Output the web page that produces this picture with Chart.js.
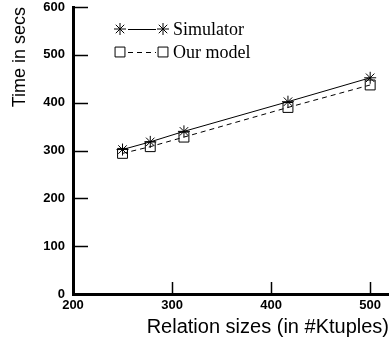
<!DOCTYPE html>
<html>
<head>
<meta charset="utf-8">
<script src="https://cdn.jsdelivr.net/npm/chart.js@4.4.1/dist/chart.umd.min.js"></script>
<style>
  html, body { margin: 0; padding: 0; background: #fff; overflow: hidden; }
  canvas { display: block; }
</style>
</head>
<body>
<canvas id="chart" width="389" height="343"></canvas>
<script>
// --- data ---
const relationSizes = [250, 278, 312, 417, 500];      // #Ktuples
const simulatorTimes = [302, 318, 340, 402, 452];     // secs
const modelTimes = [294, 308, 328, 390, 437];         // secs
const xTicks = [200, 300, 400, 500];
const yTicks = [0, 100, 200, 300, 400, 500, 600];

const sans = "'Liberation Sans', Arial, sans-serif";
const serif = "'Liberation Serif', 'Times New Roman', serif";

const toPoints = (xs, ys) => xs.map((x, i) => ({ x: x, y: ys[i] }));

// inward tick marks (Chart.js only draws them outward)
const inwardTicks = {
    id: 'inwardTicks',
    afterDatasetsDraw(chart) {
        const { ctx, scales: { x, y }, chartArea } = chart;
        ctx.save();
        ctx.strokeStyle = '#000';
        ctx.lineWidth = 1.5;
        yTicks.forEach(v => {
            if (v === 0) return;
            const py = Math.round(y.getPixelForValue(v)) + 0.5;
            ctx.beginPath();
            ctx.moveTo(chartArea.left, py);
            ctx.lineTo(chartArea.left + 15, py);
            ctx.stroke();
        });
        xTicks.forEach(v => {
            if (v === 200) return;
            const px = Math.round(x.getPixelForValue(v)) + 0.5;
            ctx.beginPath();
            ctx.moveTo(px, chartArea.bottom);
            ctx.lineTo(px, chartArea.bottom - 12);
            ctx.stroke();
        });
        ctx.restore();
    }
};

// legend drawn as marker - line - marker, like the original plot
const markerLegend = {
    id: 'markerLegend',
    afterDraw(chart) {
        const ctx = chart.ctx;
        const rows = [{ ds: 0, y: 29 }, { ds: 1, y: 52 }];
        ctx.save();
        rows.forEach(r => {
            const ds = chart.data.datasets[r.ds];
            const opts = {
                pointStyle: ds.pointStyle, radius: ds.pointRadius,
                borderWidth: 1, rotation: 0
            };
            ctx.strokeStyle = '#000';
            ctx.fillStyle = 'rgba(0,0,0,0)';
            ctx.lineWidth = 1;
            Chart.helpers.drawPoint(ctx, opts, 120, r.y);
            Chart.helpers.drawPoint(ctx, opts, 163, r.y);
            ctx.beginPath();
            ctx.setLineDash(ds.borderDash || []);
            ctx.moveTo(128, r.y + 0.5);
            ctx.lineTo(156, r.y + 0.5);
            ctx.stroke();
            ctx.setLineDash([]);
            ctx.fillStyle = '#000';
            ctx.font = '18px ' + serif;
            ctx.textBaseline = 'middle';
            ctx.fillText(ds.label, 173, r.y + 1);
        });
        ctx.restore();
    }
};

new Chart(document.getElementById('chart'), {
    type: 'scatter',
    data: {
        datasets: [
            {
                label: 'Simulator',
                data: toPoints(relationSizes, simulatorTimes),
                showLine: true,
                borderColor: '#000',
                borderWidth: 1,
                pointStyle: 'star',
                pointRadius: 6,
                pointBorderColor: '#000',
                pointBorderWidth: 1
            },
            {
                label: 'Our model',
                data: toPoints(relationSizes, modelTimes),
                showLine: true,
                borderColor: '#000',
                borderWidth: 1,
                borderDash: [5, 4],
                pointStyle: 'rect',
                pointRadius: 7,
                pointBackgroundColor: 'rgba(0,0,0,0)',
                pointBorderColor: '#000',
                pointBorderWidth: 1
            }
        ]
    },
    options: {
        responsive: false,
        animation: false,
        events: [],
        layout: { autoPadding: false, padding: { top: 7, right: 0, left: 0, bottom: 0 } },
        plugins: { legend: { display: false }, tooltip: { enabled: false } },
        scales: {
            x: {
                type: 'linear',
                min: 200,
                max: 519,
                afterFit: s => { s.height = 49; s.paddingLeft = 0; s.paddingRight = 0; },
                afterBuildTicks: s => { s.ticks = xTicks.map(v => ({ value: v })); },
                grid: { display: true, drawOnChartArea: false, drawTicks: false },
                border: { color: '#000', width: 3 },
                ticks: { color: '#000', padding: 4, maxRotation: 0, font: { family: sans, size: 13, weight: 'bold' } },
                title: {
                    display: true, text: 'Relation sizes (in #Ktuples)', align: 'end',
                    color: '#000', padding: { top: 0, bottom: 4 },
                    font: { family: sans, size: 20 }
                }
            },
            y: {
                min: 0,
                max: 600,
                afterFit: s => { s.width = 73; s.paddingTop = 0; s.paddingBottom = 0; },
                afterBuildTicks: s => { s.ticks = yTicks.map(v => ({ value: v })); },
                grid: { display: true, drawOnChartArea: false, drawTicks: false },
                border: { color: '#000', width: 3 },
                ticks: { color: '#000', padding: 8, font: { family: sans, size: 13, weight: 'bold' } },
                title: {
                    display: true, text: 'Time in secs', align: 'end',
                    color: '#000', padding: { top: 9, bottom: 0 },
                    font: { family: sans, size: 18 }
                }
            }
        }
    },
    plugins: [inwardTicks, markerLegend]
});
</script>
</body>
</html>
